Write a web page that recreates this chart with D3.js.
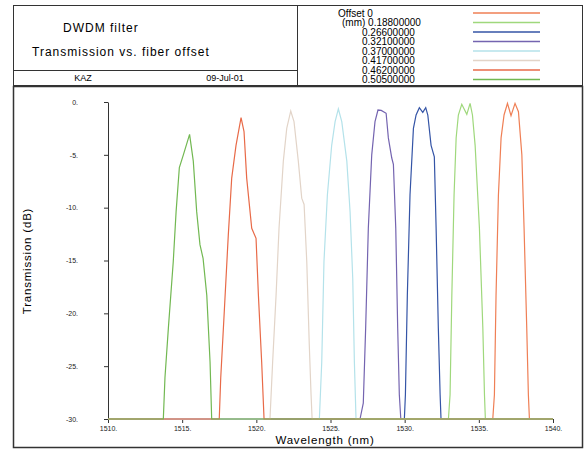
<!DOCTYPE html>
<html>
<head>
<meta charset="utf-8">
<script src="https://cdn.jsdelivr.net/npm/d3@7"></script>
<style>
  body { margin: 0; background: #fff; }
  svg { font-family: "Liberation Sans", Arial, sans-serif; }
</style>
</head>
<body>
<div id="chart"></div>
<script>
// fiber offsets (mm) and their colours
var offsets = ["0", "0.18800000", "0.26600000", "0.32100000", "0.37000000", "0.41700000", "0.46200000", "0.50500000"];
var colors = ["#ef7f55", "#9fd87c", "#3454a6", "#7464b0", "#b4e2ea", "#e2d4c8", "#e86a48", "#72b852"];

// [wavelength nm, transmission dB]
var off0 = [[1510,-30],[1535.94,-30],[1536.05,-27.7],[1536.16,-18.3],[1536.32,-8.8],[1536.5,-3.4],[1536.7,-1.23],[1536.93,-0.13],[1537.17,-1.3],[1537.44,-0.13],[1537.67,-0.92],[1537.9,-5],[1538.05,-11.95],[1538.23,-21.4],[1538.34,-27.7],[1538.41,-30],[1540,-30]];
var off188 = [[1510,-30],[1532.95,-30],[1533.06,-27.7],[1533.18,-18.3],[1533.33,-8.8],[1533.47,-3.4],[1533.62,-1.23],[1533.85,-0.22],[1534.19,-1.17],[1534.41,-0.13],[1534.57,-1.23],[1534.75,-4.1],[1535.04,-11.95],[1535.27,-21.4],[1535.38,-27.7],[1535.44,-30],[1540,-30]];
var off266 = [[1510,-30],[1529.98,-30],[1530.05,-27.7],[1530.18,-18.3],[1530.36,-8.8],[1530.59,-2.5],[1530.77,-1.23],[1530.99,-0.54],[1531.22,-0.98],[1531.42,-0.54],[1531.56,-1.23],[1531.78,-4.1],[1532,-5.2],[1532.12,-11.95],[1532.27,-21.4],[1532.39,-27.7],[1532.45,-30],[1540,-30]];
var off321 = [[1510,-30],[1526.99,-30],[1527.21,-28.5],[1527.37,-21.4],[1527.55,-11.95],[1527.78,-5],[1528,-1.86],[1528.2,-0.76],[1528.42,-0.8],[1528.75,-1.07],[1528.9,-3.4],[1529.13,-5.3],[1529.24,-5.9],[1529.4,-11.95],[1529.53,-21.4],[1529.64,-27.7],[1529.74,-30],[1540,-30]];
var off370 = [[1510,-30],[1524.25,-30],[1524.41,-24.6],[1524.56,-15.1],[1524.79,-8.8],[1525.08,-4.1],[1525.31,-1.86],[1525.53,-0.66],[1525.76,-1.86],[1526.1,-5.6],[1526.32,-10.4],[1526.5,-16.7],[1526.61,-24.6],[1526.72,-30],[1540,-30]];
var off417 = [[1510,-30],[1520.92,-30],[1521.1,-24.6],[1521.33,-18.3],[1521.53,-11.95],[1521.82,-5.6],[1522.05,-2.5],[1522.32,-0.85],[1522.54,-1.86],[1522.83,-5.6],[1523.06,-9.1],[1523.22,-9.7],[1523.4,-15.1],[1523.57,-23],[1523.69,-27.7],[1523.76,-30],[1540,-30]];
var off462 = [[1510,-30],[1517.5,-30],[1517.6,-26.1],[1517.84,-19.8],[1518.11,-12.6],[1518.34,-7.2],[1518.63,-4.1],[1518.97,-1.48],[1519.17,-2.8],[1519.35,-7.2],[1519.69,-11.95],[1519.98,-12.9],[1520.14,-18.3],[1520.36,-24.6],[1520.52,-30],[1540,-30]];
var off505 = [[1510,-30],[1513.73,-30],[1513.84,-26.1],[1514.07,-21.4],[1514.4,-15.1],[1514.59,-10.4],[1514.81,-6.2],[1515.08,-5],[1515.5,-3.06],[1515.75,-5.6],[1515.98,-10.4],[1516.2,-13.5],[1516.41,-14.8],[1516.66,-18.3],[1516.88,-24.6],[1516.99,-30],[1540,-30]];
var curves = [off0, off188, off266, off321, off370, off417, off462, off505];

var xTicks = [1510, 1515, 1520, 1525, 1530, 1535, 1540];
var yTicks = [0, -5, -10, -15, -20, -25, -30];

var width = 588,
    height = 452;

var svg = d3.select("#chart")
    .append("svg")
    .attr("width", width)
    .attr("height", height);

// header boxes
var frame = "#333";
svg.append("rect").attr("x", 13.5).attr("y", 5.5).attr("width", 284).attr("height", 80)
    .attr("fill", "none").attr("stroke", frame);
svg.append("rect").attr("x", 297.5).attr("y", 5.5).attr("width", 285).attr("height", 80)
    .attr("fill", "none").attr("stroke", frame);
svg.append("line").attr("x1", 13.5).attr("x2", 297.5).attr("y1", 70.5).attr("y2", 70.5)
    .attr("stroke", frame);

svg.append("text").attr("x", 63).attr("y", 32).attr("font-size", 12).attr("letter-spacing", 1).text("DWDM filter");
svg.append("text").attr("x", 32).attr("y", 56).attr("font-size", 12).attr("letter-spacing", 1).text("Transmission vs. fiber offset");
svg.append("text").attr("x", 83).attr("y", 81).attr("font-size", 9).attr("text-anchor", "middle").text("KAZ");
svg.append("text").attr("x", 225).attr("y", 81).attr("font-size", 9).attr("text-anchor", "middle").text("09-Jul-01");

// legend
var legend = svg.append("g");
offsets.forEach(function(o, i) {
  var y = 13 + i * 9.5;
  var label = i == 0 ? "Offset " + o : (i == 1 ? "(mm) " + o : o);
  var lx = i == 0 ? 338 : (i == 1 ? 342 : 362);
  legend.append("text").attr("x", lx).attr("y", y + 3.5).attr("font-size", 10).text(label);
  legend.append("line").attr("x1", 473).attr("x2", 540).attr("y1", y).attr("y2", y)
      .attr("stroke", colors[i]).attr("stroke-width", 1.5);
});

// plot frame
svg.append("rect").attr("x", 13.5).attr("y", 86.5).attr("width", 569).attr("height", 361)
    .attr("fill", "none").attr("stroke", frame).attr("stroke-width", 1.5);

var x = d3.scaleLinear().domain([1510, 1540]).range([108, 553]);
var y = d3.scaleLinear().domain([-30, 0]).range([419, 102]);

var xAxis = svg.append("g")
    .attr("transform", "translate(0,419)")
    .call(d3.axisBottom(x).tickValues(xTicks).tickSize(4).tickSizeOuter(0)
        .tickFormat(function(d) { return d + "."; }));
var yAxis = svg.append("g")
    .attr("transform", "translate(108,0)")
    .call(d3.axisLeft(y).tickValues(yTicks).tickSize(4).tickSizeOuter(0).tickPadding(26)
        .tickFormat(function(d) { return d + "."; }));

[xAxis, yAxis].forEach(function(a) {
  a.selectAll("text").attr("font-size", 7).attr("font-family", "Liberation Sans").attr("fill", "#222");
  a.selectAll("line").attr("stroke", "#333");
  a.select(".domain").attr("stroke", "#333");
});

var line = d3.line()
    .x(function(d) { return x(d[0]); })
    .y(function(d) { return y(d[1]); });

svg.append("g")
    .selectAll("path")
    .data(curves)
    .enter()
    .append("path")
    .attr("d", line)
    .attr("fill", "none")
    .attr("stroke", function(d, i) { return colors[i]; })
    .attr("stroke-width", 1.2);

svg.append("text")
    .attr("x", 325).attr("y", 444)
    .attr("text-anchor", "middle")
    .attr("font-size", 11.5)
    .attr("letter-spacing", 0.8)
    .text("Wavelength (nm)");

svg.append("text")
    .attr("transform", "translate(31,261) rotate(-90)")
    .attr("text-anchor", "middle")
    .attr("font-size", 11.5)
    .attr("letter-spacing", 0.8)
    .text("Transmission (dB)");
</script>
</body>
</html>
